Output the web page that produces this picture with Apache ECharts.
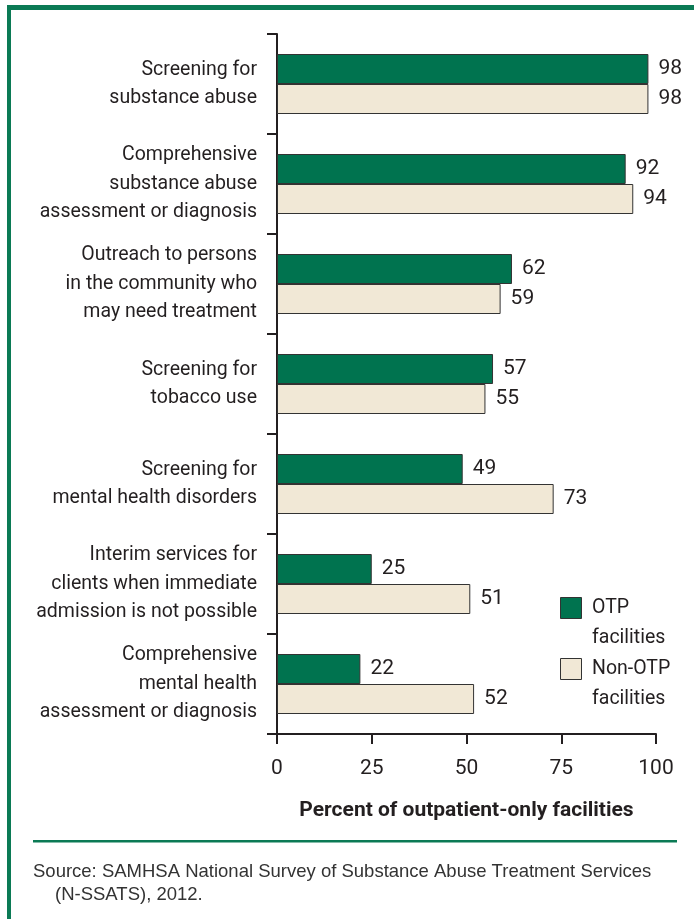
<!DOCTYPE html>
<html>
<head>
<meta charset="utf-8">
<script src="https://cdn.jsdelivr.net/npm/echarts@6/dist/echarts.min.js"></script>
<style>
  html, body { margin: 0; padding: 0; background: #ffffff; }
  #chart { width: 694px; height: 919px; }
</style>
</head>
<body>
<div id="chart"></div>
<script>
// Services offered by outpatient-only facilities, 2012
const categories = [
  'Screening for\nsubstance abuse',
  'Comprehensive\nsubstance abuse\nassessment or diagnosis',
  'Outreach to persons\nin the community who\nmay need treatment',
  'Screening for\ntobacco use',
  'Screening for\nmental health disorders',
  'Interim services for\nclients when immediate\nadmission is not possible',
  'Comprehensive\nmental health\nassessment or diagnosis'
];
const otpValues = [98, 92, 62, 57, 49, 25, 22];
const nonOtpValues = [98, 94, 59, 55, 73, 51, 52];
const xTicks = [0, 25, 50, 75, 100];
const seriesNames = ['OTP\nfacilities', 'Non-OTP\nfacilities'];
const axisTitle = 'Percent of outpatient-only facilities';
const sourceLines = [
  'Source: SAMHSA National Survey of Substance Abuse Treatment Services',
  '(N-SSATS), 2012.'
];

const GREEN = '#00734f';
const CREAM = '#f1e8d6';
const FRAME = '#0b7a55';
const INK = '#231f20';
const FONT = 'Roboto, "Liberation Sans", sans-serif';
const BODY_FONT = '"Liberation Sans", Arial, sans-serif';

const chart = echarts.init(document.getElementById('chart'), null, { renderer: 'canvas' });

const barLabel = {
  show: true,
  position: 'right',
  distance: 10,
  color: INK,
  fontFamily: FONT,
  fontSize: 21
};

chart.setOption({
  backgroundColor: '#ffffff',
  animation: false,
  grid: { left: 277, top: 34, width: 379, height: 700, containLabel: false },
  xAxis: {
    type: 'value',
    min: xTicks[0],
    max: xTicks[xTicks.length - 1],
    interval: xTicks[1] - xTicks[0],
    splitLine: { show: false },
    axisLine: { show: true, lineStyle: { color: INK, width: 2 } },
    axisTick: { show: true, length: 10, lineStyle: { color: INK, width: 2 } },
    axisLabel: { margin: 24, color: INK, fontFamily: FONT, fontSize: 21 },
    name: axisTitle,
    nameLocation: 'middle',
    nameGap: 66,
    nameTextStyle: { color: INK, fontFamily: FONT, fontSize: 21, fontWeight: 'bold' }
  },
  yAxis: {
    type: 'category',
    data: categories,
    inverse: true,
    axisLine: { show: true, lineStyle: { color: INK, width: 2 } },
    axisTick: { show: true, length: 10, lineStyle: { color: INK, width: 2 } },
    axisLabel: {
      margin: 20,
      color: INK,
      fontFamily: FONT,
      fontSize: 19.5,
      lineHeight: 28.5,
      align: 'right'
    }
  },
  series: [
    {
      name: seriesNames[0],
      type: 'bar',
      data: otpValues,
      barWidth: 30,
      barGap: '0%',
      itemStyle: { color: GREEN, borderColor: '#333333', borderWidth: 1 },
      label: barLabel
    },
    {
      name: seriesNames[1],
      type: 'bar',
      data: nonOtpValues,
      barWidth: 30,
      barGap: '0%',
      itemStyle: { color: CREAM, borderColor: '#333333', borderWidth: 1 },
      label: barLabel
    }
  ],
  graphic: [
    // frame: top and left rules
    { type: 'rect', shape: { x: 7, y: 5, width: 687, height: 5 }, style: { fill: FRAME }, silent: true },
    { type: 'rect', shape: { x: 7, y: 5, width: 4, height: 914 }, style: { fill: FRAME }, silent: true },
    // rule above the source note
    { type: 'rect', shape: { x: 33, y: 840, width: 644, height: 2.5 }, style: { fill: FRAME }, silent: true },
    // legend
    { type: 'rect', shape: { x: 560.5, y: 597.5, width: 21, height: 21 }, style: { fill: GREEN, stroke: '#333333', lineWidth: 1 } },
    { type: 'text', left: 592, top: 593, style: { text: seriesNames[0], fill: INK, font: '19.5px ' + FONT, lineHeight: 30 } },
    { type: 'rect', shape: { x: 560.5, y: 658.5, width: 21, height: 21 }, style: { fill: CREAM, stroke: '#333333', lineWidth: 1 } },
    { type: 'text', left: 592, top: 654, style: { text: seriesNames[1], fill: INK, font: '19.5px ' + FONT, lineHeight: 30 } },
    // source note
    { type: 'text', left: 33, top: 862, style: { text: sourceLines[0], fill: '#333333', font: '18.5px ' + BODY_FONT } },
    { type: 'text', left: 55, top: 885, style: { text: sourceLines[1], fill: '#333333', font: '18.5px ' + BODY_FONT } }
  ]
});
</script>
</body>
</html>
